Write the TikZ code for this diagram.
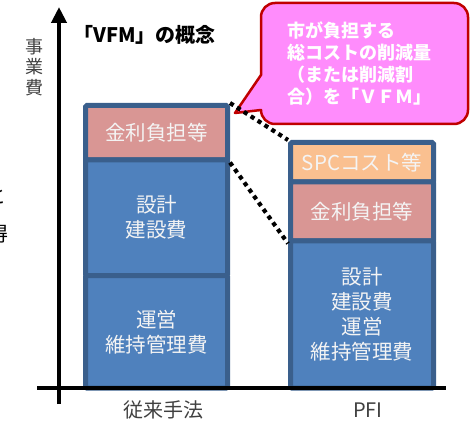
\documentclass[tikz,border=0pt]{standalone}
\usepackage{fontspec}
\newfontfamily\jp{Noto Sans CJK JP}
\usetikzlibrary{arrows.meta}
\definecolor{bandblue}{HTML}{4F81BD}
\definecolor{edgeblue}{HTML}{3A5F8C}
\definecolor{bandpink}{HTML}{D99694}
\definecolor{bandorange}{HTML}{FAC090}
\definecolor{textw}{HTML}{F4F4F4}
\definecolor{labelgray}{HTML}{404040}
\definecolor{bubblefill}{RGB}{255,140,252}
\definecolor{bubbleedge}{HTML}{C00000}
\begin{document}
\begin{tikzpicture}[x=1pt,y=-1pt,
  band/.style={draw=edgeblue, line width=5pt, inner sep=0pt, text=textw, align=center,
    rounded corners=1.5pt, font=\jp\fontsize{20.5}{25}\selectfont},
  axisline/.style={line width=4pt, black},
  dotline/.style={line width=4.2pt, black, dash pattern=on 4.2pt off 4pt},
  bubble/.style={fill=bubblefill, draw=bubbleedge, line width=2.5pt, line join=round},
  lbl/.style={font=\jp\fontsize{20}{24}\selectfont, text=labelgray, inner sep=0pt}]
\useasboundingbox (0,0) rectangle (474,422);
% cut-off text at the left edge
\node[lbl, text=black, anchor=east] (f1) at (7,196) {と};
\node[lbl, text=black, anchor=east] (f2) at (9,234) {得};
% left column
\node[band, fill=bandpink, minimum width=142, minimum height=54.5] (lp) at (156.5,132.75) {金利負担等};
\node[band, fill=bandblue, minimum width=142, minimum height=115.5] (lb1) at (156.5,217.75) {設計\\建設費};
\node[band, fill=bandblue, minimum width=142, minimum height=112.5] (lb2) at (156.5,331.75) {運営\\維持管理費};
% right column
\node[band, fill=bandorange, minimum width=143, minimum height=39.5] (ro) at (362,162.25) {SPCコスト等};
\node[band, fill=bandpink, minimum width=143, minimum height=59] (rp) at (362,211.5) {金利負担等};
\node[band, fill=bandblue, minimum width=143, minimum height=147] (rb) at (362,314.5) {設計\\建設費\\運営\\維持管理費};
% axes
\coordinate (yb) at (59,404);
\coordinate (yt) at (59,7);
\coordinate (xl) at (37,388);
\coordinate (xr) at (446,388);
\draw[axisline] (xl) -- (xr);
\draw[axisline, -{Triangle[width=15pt,length=16pt]}] (yb) -- (yt);
% labels
\node[lbl, align=center, font=\jp\fontsize{18}{20.5}\selectfont] (ylab) at (34,67) {事\\業\\費};
\node[font=\jp\bfseries\fontsize{20}{24}\selectfont, anchor=west, inner sep=0pt] (title) at (73,35) {「VFM」の概念};
\node[lbl] (l1) at (163,410) {従来手法};
\node[lbl] (l2) at (368,410) {PFI};
% callout
\draw[bubble] (261,60) [rounded corners=14pt] -- (261,3) -- (468,3) -- (468,124) -- (261,124) [sharp corners] -- (261,110) -- (235,113) -- (261,75) -- cycle;
\node[font=\jp\bfseries\fontsize{18}{22}\selectfont, text=white, align=left, anchor=west, inner sep=0pt] (bt) at (287,64) {市が負担する\\総コストの削減量\\（または削減割\\合）を「ＶＦＭ」};
% dotted connectors
\draw[dotline] (lp.north east) -- (ro.north west);
\draw[dotline] (lp.south east) -- (rp.south west);
\end{tikzpicture}
\end{document}
